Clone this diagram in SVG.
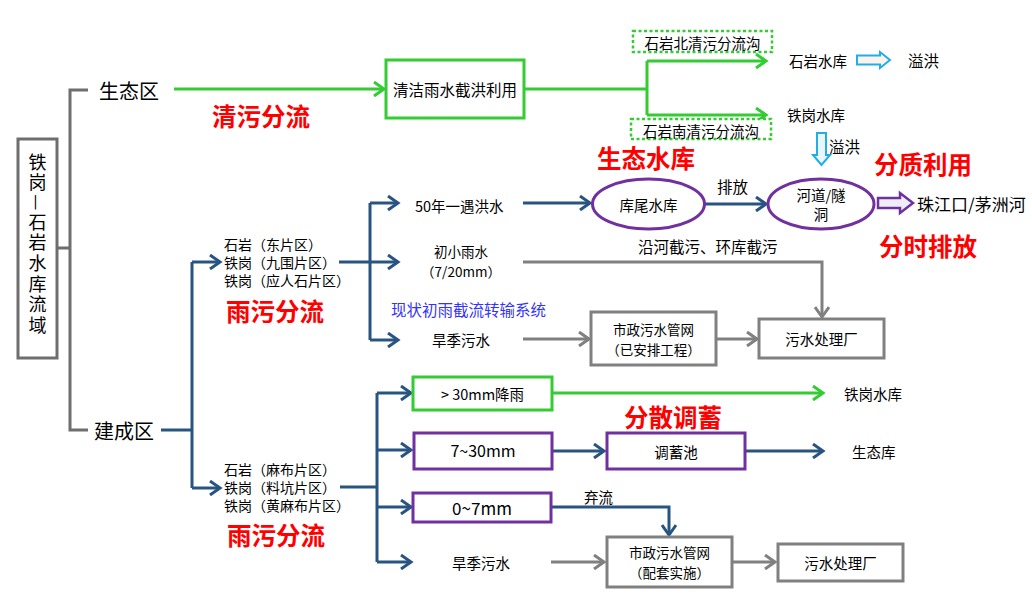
<svg xmlns="http://www.w3.org/2000/svg" width="1032" height="602" viewBox="0 0 1032 602">
<defs>
<marker id="ag" markerUnits="userSpaceOnUse" markerWidth="14" markerHeight="16" refX="11" refY="8" orient="auto"><path d="M1,1 L11,8 L1,15" fill="none" stroke="#33CC33" stroke-width="3"/></marker>
<marker id="ab" markerUnits="userSpaceOnUse" markerWidth="14" markerHeight="16" refX="11" refY="8" orient="auto"><path d="M1,1 L11,8 L1,15" fill="none" stroke="#285482" stroke-width="3"/></marker>
<marker id="ay" markerUnits="userSpaceOnUse" markerWidth="14" markerHeight="16" refX="11" refY="8" orient="auto"><path d="M1,1 L11,8 L1,15" fill="none" stroke="#808080" stroke-width="3"/></marker>
</defs>
<style>
text{font-family:"Microsoft YaHei","Noto Sans CJK SC",sans-serif;fill:#000;dominant-baseline:central}
.s{font-size:14.5px}
.t{font-size:13.5px}
.a{font-size:14px}
.m{font-size:15.5px}
.l{font-size:20px}
.r{font-size:24.5px;font-weight:bold;fill:#FF0000}
.g{fill:none;stroke:#33CC33;stroke-width:3}
.b{fill:none;stroke:#285482;stroke-width:3}
.y{fill:none;stroke:#808080;stroke-width:3}
.p{fill:#fff;stroke:#7030A0;stroke-width:3}
.bx{fill:#fff;stroke:#808080;stroke-width:3}
.gb{fill:#fff;stroke:#33CC33;stroke-width:3}
.pb{fill:#fff;stroke:#7030A0;stroke-width:3}
</style>
<rect width="1032" height="602" fill="#fff"/>
<g id="connectors">
<path d="M57,248 H70 M88,90 H70 V430 H88" fill="none" stroke="#6E6E6E" stroke-width="3"/>
<path class="g" d="M174,89 H384" marker-end="url(#ag)"/>
<path class="g" d="M524,89 H647 M647,61 V115 M647,61 H766" marker-end="url(#ag)"/>
<path class="g" d="M647,115 H766" marker-end="url(#ag)"/>
<path class="b" d="M161,430 H192 M192,262 V488"/>
<path class="b" d="M192,262 H220" marker-end="url(#ab)"/>
<path class="b" d="M192,488 H220" marker-end="url(#ab)"/>
<path class="b" d="M339,262 H370 M370,203 V340"/>
<path class="b" d="M370,203 H398" marker-end="url(#ab)"/>
<path class="b" d="M370,262 H398" marker-end="url(#ab)"/>
<path class="b" d="M370,340 H398" marker-end="url(#ab)"/>
<path class="b" d="M523,203 H590" marker-end="url(#ab)"/>
<path class="b" d="M705,204 H766" marker-end="url(#ab)"/>
<path class="y" d="M523,262 H822 V317" marker-end="url(#ay)"/>
<path class="y" d="M523,339 H589" marker-end="url(#ay)"/>
<path class="y" d="M716,339 H757" marker-end="url(#ay)"/>
<path class="b" d="M340,487 H377 M377,393 V562"/>
<path class="b" d="M377,393 H411" marker-end="url(#ab)"/>
<path class="b" d="M377,450 H411" marker-end="url(#ab)"/>
<path class="b" d="M377,507 H411" marker-end="url(#ab)"/>
<path class="b" d="M377,562 H411" marker-end="url(#ab)"/>
<path class="g" d="M552,393 H823" marker-end="url(#ag)"/>
<path class="b" d="M552,451 H604" marker-end="url(#ab)"/>
<path class="b" d="M745,451 H823" marker-end="url(#ab)"/>
<path class="b" d="M551,507 H669 V535" marker-end="url(#ab)"/>
<path class="y" d="M551,562 H604" marker-end="url(#ay)"/>
<path class="y" d="M732,562 H775" marker-end="url(#ay)"/>
<path d="M857,55.5 H880 V52 L890,60 L880,68 V64.5 H857 Z" fill="#FCF3EC" stroke="#1EAEE8" stroke-width="2"/>
<path d="M817,133 V155 H813 L821.5,165 L830,155 H826 V133 Z" fill="#EAF6FC" stroke="#1EAEE8" stroke-width="2"/>
<path d="M878,198 H900 V193 L913,203 L900,213 V208 H878 Z" fill="#EEEEF6" stroke="#7030A0" stroke-width="2.5"/>
</g>
<g id="root"><rect x="18" y="139" width="39" height="219" fill="#fff" stroke="#6E6E6E" stroke-width="3"/>
<text x="37.5" y="153" style="font-size:18px;writing-mode:vertical-rl;letter-spacing:2.6px">铁岗—石岩水库流域</text></g>
<g id="eco"><text class="l" x="99" y="90">生态区</text></g>
<g id="built"><text class="l" x="94" y="430">建成区</text></g>
<g id="clean"><rect class="gb" x="386" y="60" width="138" height="58"/><text class="m" x="455" y="89" text-anchor="middle">清洁雨水截洪利用</text></g>
<g id="north"><rect x="633" y="31" width="139" height="21" fill="#fff" stroke="#33CC33" stroke-width="2.5" stroke-dasharray="3,2.5"/><text class="s" x="702.5" y="42" text-anchor="middle">石岩北清污分流沟</text></g>
<g id="south"><rect x="631" y="119" width="140" height="20" fill="#fff" stroke="#33CC33" stroke-width="2.5" stroke-dasharray="3,2.5"/><text class="s" x="701" y="130" text-anchor="middle">石岩南清污分流沟</text></g>
<g id="shiyan"><text class="s" x="789" y="60">石岩水库</text></g>
<g id="overflow1"><text class="m" x="908" y="60">溢洪</text></g>
<g id="tiegang"><text class="s" x="787" y="114">铁岗水库</text></g>
<g id="overflow2"><text class="m" x="829" y="146">溢洪</text></g>
<g id="river"><ellipse class="p" cx="821" cy="204" rx="53" ry="25"/><text class="s" text-anchor="middle"><tspan x="821" y="194">河道/隧</tspan><tspan x="821" y="213">洞</tspan></text></g>
<g id="zhujiang"><text x="917" y="203" style="font-size:17px">珠江口/茅洲河</text></g>
<g id="kuwei"><ellipse class="p" cx="648.5" cy="204" rx="56" ry="25"/><text class="s" x="648.5" y="204" text-anchor="middle">库尾水库</text></g>
<g id="labels">
<text class="r" x="212" y="115">清污分流</text>
<text class="r" x="597" y="157">生态水库</text>
<text class="r" x="874" y="163">分质利用</text>
<text class="r" x="879" y="245">分时排放</text>
<text class="r" x="226" y="310">雨污分流</text>
<text class="r" x="227" y="534">雨污分流</text>
<text class="r" x="624" y="416">分散调蓄</text>
<text class="m" x="717" y="186">排放</text>
<text class="m" x="638" y="246">沿河截污、环库截污</text>
<text class="m" x="391" y="309" style="fill:#3333FF">现状初雨截流转输系统</text>
<text class="s" x="584" y="496">弃流</text>
</g>
<g id="areaA"><text class="a"><tspan x="224" y="244">石岩（东片区）</tspan><tspan x="224" y="262">铁岗（九围片区）</tspan><tspan x="224" y="280">铁岗（应人石片区）</tspan></text></g>
<g id="areaB"><text class="a"><tspan x="224" y="469">石岩（麻布片区）</tspan><tspan x="224" y="487">铁岗（料坑片区）</tspan><tspan x="224" y="505">铁岗（黄麻布片区）</tspan></text></g>
<g id="flood50"><text class="s" x="415" y="205">50年一遇洪水</text></g>
<g id="firstrain"><text class="t" text-anchor="middle"><tspan x="461" y="251">初小雨水</tspan><tspan x="461" y="271">（7/20mm）</tspan></text></g>
<g id="dry1"><text class="s" x="461" y="339" text-anchor="middle">旱季污水</text></g>
<g id="muni1"><rect class="bx" x="591" y="312" width="125" height="53"/><text class="t" text-anchor="middle"><tspan x="653.5" y="329">市政污水管网</tspan><tspan x="653.5" y="349">（已安排工程）</tspan></text></g>
<g id="wwtp1"><rect class="bx" x="759" y="319" width="125" height="39"/><text class="s" x="821.5" y="338.5" text-anchor="middle">污水处理厂</text></g>
<g id="r30"><rect class="gb" x="413" y="377" width="139" height="33"/><text class="s" x="482.5" y="393" text-anchor="middle">&gt; 30mm降雨</text></g>
<g id="tiegang2"><text class="s" x="844" y="393">铁岗水库</text></g>
<g id="r7_30"><rect class="pb" x="414" y="433" width="138" height="36"/><text x="483" y="450" text-anchor="middle" style="font-size:16px">7~30mm</text></g>
<g id="pool"><rect class="pb" x="607" y="433" width="138" height="36"/><text class="s" x="676" y="451" text-anchor="middle">调蓄池</text></g>
<g id="ecolib"><text class="s" x="852" y="451">生态库</text></g>
<g id="r0_7"><rect class="pb" x="413" y="493" width="138" height="29"/><text x="482" y="507" text-anchor="middle" style="font-size:17px">0~7mm</text></g>
<g id="dry2"><text class="s" x="481" y="562" text-anchor="middle">旱季污水</text></g>
<g id="muni2"><rect class="bx" x="607" y="537" width="125" height="50"/><text class="t" text-anchor="middle"><tspan x="669.5" y="552">市政污水管网</tspan><tspan x="669.5" y="572">（配套实施）</tspan></text></g>
<g id="wwtp2"><rect class="bx" x="778" y="544" width="125" height="37"/><text class="s" x="840.5" y="562.5" text-anchor="middle">污水处理厂</text></g>
</svg>
